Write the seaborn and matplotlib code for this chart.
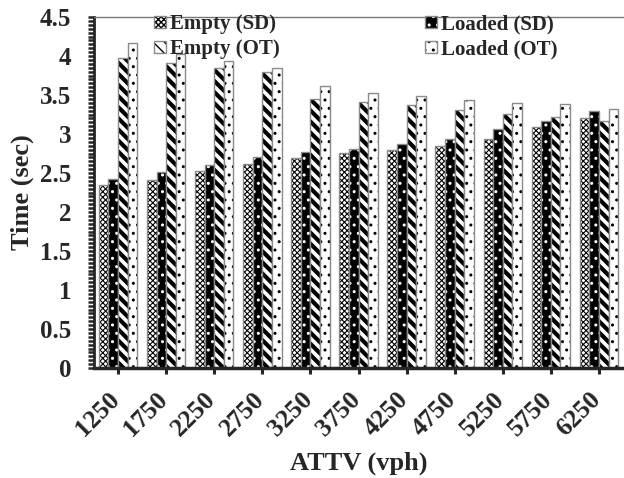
import numpy as np
import pandas as pd
import matplotlib
matplotlib.use("Agg")
import matplotlib.pyplot as plt
import matplotlib.transforms as mtransforms
import seaborn as sns
from matplotlib.colors import to_rgba
from matplotlib.ticker import MultipleLocator

# ---- data ----
attv = ["1250", "1750", "2250", "2750", "3250", "3750", "4250", "4750", "5250", "5750", "6250"]
empty_sd = [2.34, 2.41, 2.53, 2.61, 2.69, 2.76, 2.80, 2.85, 2.93, 3.09, 3.21]
loaded_sd = [2.42, 2.51, 2.60, 2.70, 2.77, 2.81, 2.87, 2.94, 3.06, 3.17, 3.30]
empty_ot = [3.98, 3.91, 3.84, 3.80, 3.45, 3.41, 3.37, 3.31, 3.26, 3.22, 3.17]
loaded_ot = [4.17, 4.03, 3.93, 3.84, 3.62, 3.53, 3.49, 3.44, 3.40, 3.39, 3.32]
series = ["Empty (SD)", "Loaded (SD)", "Empty (OT)", "Loaded (OT)"]
yticks = [0, 0.5, 1, 1.5, 2, 2.5, 3, 3.5, 4, 4.5]

df = pd.DataFrame({
    "ATTV": attv * 4,
    "Series": np.repeat(series, len(attv)),
    "Time": empty_sd + loaded_sd + empty_ot + loaded_ot,
})

sns.set_style("ticks")
plt.rcParams["font.family"] = ["Liberation Serif", "DejaVu Serif"]
plt.rcParams["font.weight"] = "bold"

fig = plt.figure(figsize=(6.24, 4.78), dpi=100)
ax = fig.add_axes([94 / 624, 1 - 368 / 478, 529 / 624, 351 / 478])

sns.barplot(data=df, x="ATTV", y="Time", hue="Series", hue_order=series,
            order=attv, palette=["white", "black", "white", "white"],
            width=0.8, gap=0, ax=ax, legend=False, saturation=1)

styles = [
    # facecolor, hatch, hatch color, hatch linewidth
    ("white", "xxxxxx", "black", 0.8),
    ("black", "..", "white", 1.0),
    ("white", "\\\\\\", "black", 3.0),
    ("white", "..", "black", 1.0),
]
outline = to_rgba("#8a8a8a")
for cont, (fc, hatch, hc, hlw) in zip(ax.containers, styles):
    for p in cont.patches:
        p.set_facecolor(fc)
        p.set_hatch(hatch)
        p.set_edgecolor(hc)          # sets hatch colour
        if hasattr(p, "set_hatch_linewidth"):
            p.set_hatch_linewidth(hlw)
        else:
            p._hatch_linewidth = hlw
        p._edgecolor = outline       # outline colour differs from hatch colour
        p.set_linewidth(1.0)

order = [0, 2, 1, 3]   # column-wise fill -> rows: SD / OT
handles = [ax.containers[i].patches[0] for i in order]
labels = [series[i] for i in order]
leg = ax.legend(handles, labels, ncol=2, loc="upper center",
                bbox_to_anchor=(0.495, 1.008), frameon=False,
                prop={"family": "Liberation Serif", "weight": "bold", "size": 15},
                handlelength=0.55, handleheight=0.55, handletextpad=0.2,
                columnspacing=7.0, labelspacing=0.25, borderpad=0, borderaxespad=0)

ax.set_xlim(-0.5, 10.5)
ax.set_ylim(0, 4.5)
ax.set_yticks(yticks)
ax.set_yticklabels([f"{v:g}" for v in yticks], fontweight="bold")
ax.yaxis.set_minor_locator(MultipleLocator(0.05))
ax.tick_params(axis="y", which="both", direction="out", length=4.5, width=1.8,
               labelsize=18, pad=12)
ax.tick_params(axis="x", direction="out", length=4, width=2.2, labelsize=18.5, pad=16)
shift = mtransforms.ScaledTranslation(-2 / 100, 0, fig.dpi_scale_trans)
for lab in ax.get_xticklabels():
    lab.set_rotation(45)
    lab.set_ha("right")
    lab.set_va("center")
    lab.set_rotation_mode("anchor")
    lab.set_fontweight("bold")
    lab.set_transform(lab.get_transform() + shift)

ax.set_xlabel("ATTV (vph)", fontsize=19, fontweight="bold", va="center")
ax.xaxis.set_label_coords(0.5, (368 - 463) / 351)
ax.set_ylabel("Time (sec)", fontsize=19, fontweight="bold", va="center")
ax.yaxis.set_label_coords((22 - 94) / 529, 0.5)

ax.spines["left"].set_linewidth(2)
ax.spines["bottom"].set_linewidth(2.5)
ax.spines["top"].set_color("#777777")
ax.spines["top"].set_linewidth(1)
ax.spines["right"].set_visible(False)

fig.savefig("out.png", dpi=100)
